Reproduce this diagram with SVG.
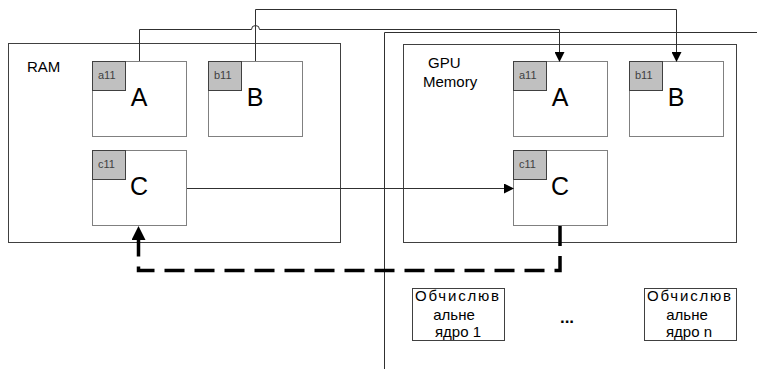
<svg xmlns="http://www.w3.org/2000/svg" width="757" height="369" viewBox="0 0 757 369">
<style>
text{font-family:"Liberation Sans",Arial,sans-serif;fill:#000}
.box{fill:#fff;stroke:#808080;stroke-width:1}
.cont{fill:none;stroke:#404040;stroke-width:1}
.tag{fill:#c0c0c0;stroke:#404040;stroke-width:1}
.tagt{font-size:11px;fill:#404040}
.big{font-size:25px;text-anchor:middle}
.lbl{font-size:15px}
.conn{fill:none;stroke:#303030;stroke-width:1}
.dash{fill:none;stroke:#000;stroke-width:3.5;stroke-dasharray:20,10}
.core{fill:#fff;stroke:#404040;stroke-width:1}
.ct{font-size:15px;text-anchor:middle}
</style>
<defs>
<marker id="ar" markerWidth="10" markerHeight="10" refX="9" refY="5" orient="auto" markerUnits="userSpaceOnUse"><path d="M0,0 L10,5 L0,10 z" fill="#000"/></marker>
<marker id="arb" markerWidth="14" markerHeight="14" refX="13" refY="7" orient="auto" markerUnits="userSpaceOnUse"><path d="M0,0 L14,7 L0,14 z" fill="#000"/></marker>
</defs>
<g id="gpu-boundary">
<path class="conn" d="M384.5,369 V32.5 H757"/>
</g>
<g id="ram">
<rect class="cont" x="8.5" y="43.5" width="332" height="199"/>
<text class="lbl" x="27" y="72">RAM</text>
</g>
<g id="gpu-memory">
<rect class="cont" x="403.5" y="44.5" width="333" height="198"/>
<text class="lbl" x="428" y="68">GPU</text>
<text class="lbl" x="423" y="87">Memory</text>
</g>
<g id="ram-a">
<rect class="box" x="92.5" y="61.5" width="94" height="75"/>
<rect class="tag" x="92.5" y="61.5" width="33" height="29"/>
<text class="tagt" x="98" y="79">a11</text>
<text class="big" x="139" y="106">A</text>
</g>
<g id="ram-b">
<rect class="box" x="208.5" y="61.5" width="94" height="75"/>
<rect class="tag" x="208.5" y="61.5" width="33" height="29"/>
<text class="tagt" x="214" y="79">b11</text>
<text class="big" x="255" y="106">B</text>
</g>
<g id="ram-c">
<rect class="box" x="92.5" y="150.5" width="94" height="75"/>
<rect class="tag" x="92.5" y="150.5" width="33" height="29"/>
<text class="tagt" x="98" y="168">c11</text>
<text class="big" x="139" y="195">C</text>
</g>
<g id="gpu-a">
<rect class="box" x="513.5" y="61.5" width="94" height="75"/>
<rect class="tag" x="513.5" y="61.5" width="33" height="29"/>
<text class="tagt" x="519" y="79">a11</text>
<text class="big" x="560" y="106">A</text>
</g>
<g id="gpu-b">
<rect class="box" x="629.5" y="61.5" width="94" height="75"/>
<rect class="tag" x="629.5" y="61.5" width="33" height="29"/>
<text class="tagt" x="635" y="79">b11</text>
<text class="big" x="676" y="106">B</text>
</g>
<g id="gpu-c">
<rect class="box" x="513.5" y="150.5" width="94" height="75"/>
<rect class="tag" x="513.5" y="150.5" width="33" height="29"/>
<text class="tagt" x="519" y="168">c11</text>
<text class="big" x="560" y="195">C</text>
</g>
<g id="core-1">
<rect class="core" x="412.5" y="288.5" width="92" height="52"/>
<text class="ct" x="457" y="301" textLength="84" lengthAdjust="spacing">Обчислюв</text>
<text class="ct" x="454" y="320">альне</text>
<text class="ct" x="458" y="337">ядро 1</text>
</g>
<g id="ellipsis">
<text x="567" y="323" style="font-size:17px;font-weight:bold;text-anchor:middle">...</text>
</g>
<g id="core-n">
<rect class="core" x="644.5" y="288.5" width="92" height="52"/>
<text class="ct" x="689" y="301" textLength="84" lengthAdjust="spacing">Обчислюв</text>
<text class="ct" x="687" y="320">альне</text>
<text class="ct" x="689" y="337">ядро n</text>
</g>
<g id="connectors">
<path class="conn" d="M139.5,61 V29.5 H251.5 A4,4 0 0 1 259.5,29.5 H559.5 V61" marker-end="url(#ar)"/>
<path class="conn" d="M255.5,61 V9.5 H676.5 V61" marker-end="url(#ar)"/>
<path class="conn" d="M187,188.5 H513" marker-end="url(#ar)"/>
<path class="dash" d="M560,226 V270.5 H138.5 V227" marker-end="url(#arb)"/>
</g>
</svg>
